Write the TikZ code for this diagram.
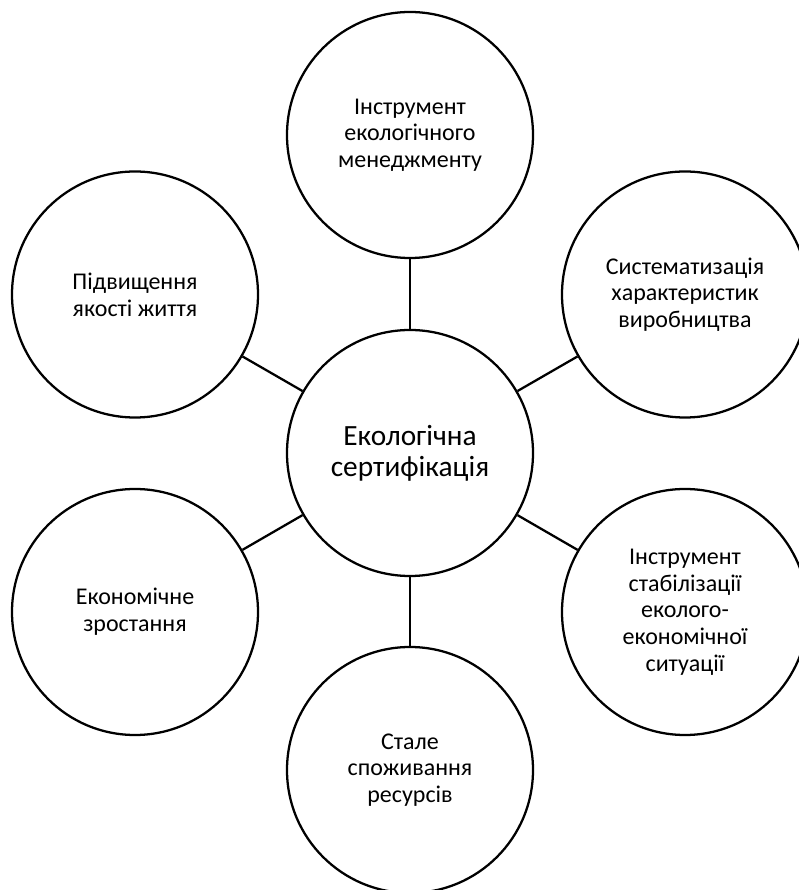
\documentclass[tikz,border=0pt]{standalone}
\usepackage{fontspec}
\setmainfont{Carlito}

\tikzset{
    bubble/.style={draw, circle, line width=1.7pt, minimum size=184.5pt,
        inner sep=0pt, align=center, font=\fontsize{18}{20}\selectfont},
    link/.style={line width=1.7pt},
}

\begin{document}
\begin{tikzpicture}[x=0.75pt, y=0.75pt]
    \useasboundingbox (0,0) rectangle (799,890);

    % centre of the hexagon
    \path (410,437) coordinate (O);

    \node[bubble, font=\fontsize{22}{23}\selectfont] (cert) at (O) {Екологічна\\сертифікація};

    \node[bubble] (tool) at (410,755) {Інструмент\\екологічного\\менеджменту};
    \node[bubble] (sys) at (685,595.5) {Систематизація\\характеристик\\виробництва};
    \node[bubble] (stab) at (685,278) {Інструмент\\стабілізації\\еколого-\\економічної\\ситуації};
    \node[bubble] (res) at (410,120) {Стале\\споживання\\ресурсів};
    \node[bubble] (econ) at (135,278) {Економічне\\зростання};
    \node[bubble] (life) at (135,595.5) {Підвищення\\якості життя};

    \foreach \n in {tool, sys, stab, res, econ, life}
        \draw[link] (cert) -- (\n);
\end{tikzpicture}
\end{document}
